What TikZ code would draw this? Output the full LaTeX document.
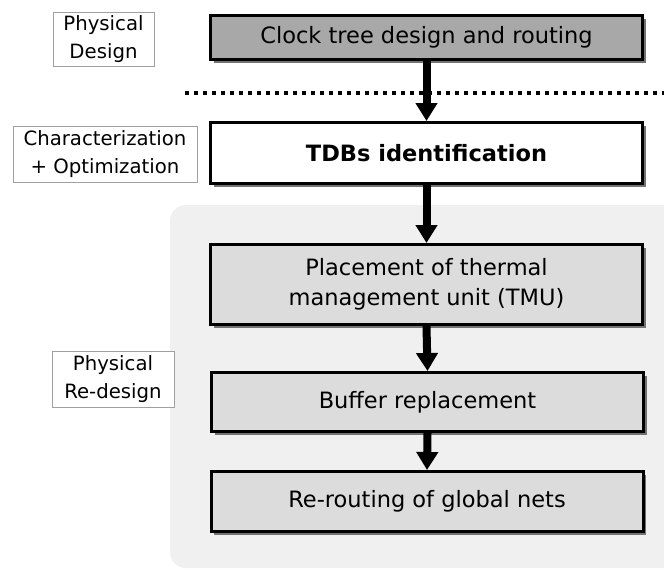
\documentclass[tikz,border=0pt]{standalone}
\usepackage{fontspec}
\setmainfont{DejaVu Sans}
\usetikzlibrary{arrows.meta,shadows}
\definecolor{panelgray}{HTML}{F0F0F0}
\definecolor{stepgray}{HTML}{DCDCDC}
\definecolor{topgray}{HTML}{A8A8A8}
\definecolor{tagline}{HTML}{A0A0A0}
\begin{document}
\begin{tikzpicture}[x=1pt,y=-1pt,
  stage/.style={draw=black, line width=3pt, minimum width=432pt, inner sep=0pt,
    align=center, font=\fontsize{22.5}{30}\selectfont,
    drop shadow={shadow xshift=3pt, shadow yshift=-3pt, fill=black!55, opacity=1}},
  tag/.style={draw=tagline, line width=1pt, fill=white, inner sep=0pt,
    align=center, font=\fontsize{19.7}{27.5}\selectfont},
  flow/.style={line width=8pt, -{Triangle[length=18pt,width=21pt]}},
]
\useasboundingbox (0,0) rectangle (664,570);

% shaded region of the re-design phase
\fill[panelgray, rounded corners=16pt] (170,205) rectangle (700,568);

% phase boundary
\coordinate (sepL) at (185,92.5);
\coordinate (sepR) at (664,92.5);
\draw[line width=4pt, dash pattern=on 4pt off 5pt] (sepL) -- (sepR);

% flow steps
\node[stage, fill=topgray, minimum height=44pt] (clock) at (426.5,37.5) {Clock tree design and routing};
\node[stage, fill=white, minimum height=61pt, font=\fontsize{22.5}{30}\selectfont\bfseries] (tdb) at (426.5,153) {TDBs identification};
\node[stage, fill=stepgray, minimum height=80pt] (tmu) at (426.5,284.5) {Placement of thermal\\management unit (TMU)};
\node[stage, fill=stepgray, minimum height=59pt] (buf) at (427.5,402) {Buffer replacement};
\node[stage, fill=stepgray, minimum height=60pt] (net) at (427,501.5) {Re-routing of global nets};

% phase tags
\node[tag, minimum width=101pt, minimum height=54pt] (pd) at (103.5,39) {Physical\\Design};
\node[tag, minimum width=184pt, minimum height=56pt] (co) at (105,154) {Characterization\\+ Optimization};
\node[tag, minimum width=122pt, minimum height=56pt] (pr) at (113,379) {Physical\\Re-design};

% connectors
\draw[flow] (clock.south) -- (tdb.north);
\draw[flow] (tdb.south) -- (tmu.north);
\draw[flow] (tmu.south) -- (buf.north);
\draw[flow] (buf.south) -- (net.north);
\end{tikzpicture}
\end{document}
